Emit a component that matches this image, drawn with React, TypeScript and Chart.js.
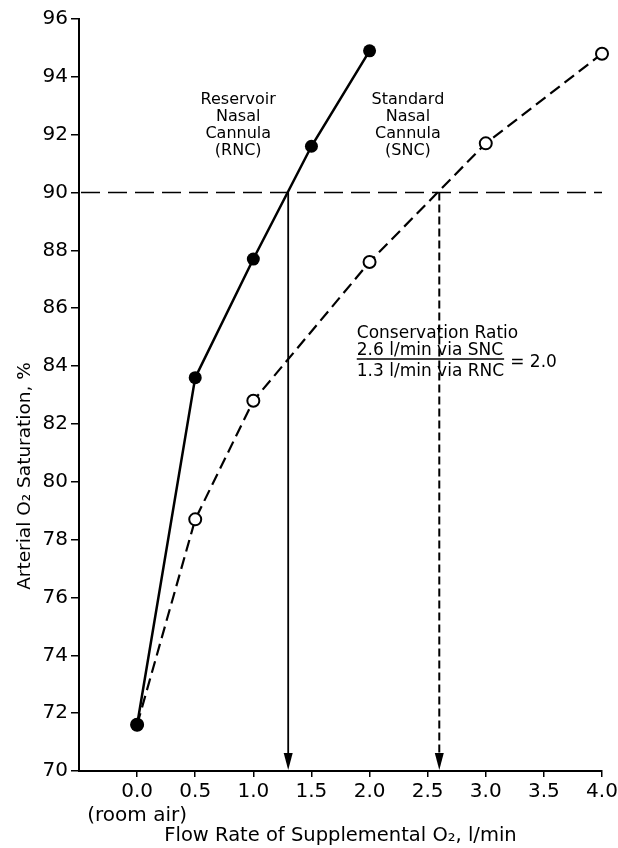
import React, { useEffect, useRef } from 'react';
import { Chart, registerables } from 'chart.js';

Chart.register(...registerables);

// ---- data ----
const flowRNC = [0, 0.5, 1.0, 1.5, 2.0];
const satRNC = [71.6, 83.6, 87.7, 91.6, 94.9];
const flowSNC = [0, 0.5, 1.0, 2.0, 3.0, 4.0];
const satSNC = [71.6, 78.7, 82.8, 87.6, 91.7, 94.8];

const TARGET_SAT = 90;
const RNC_FLOW_AT_TARGET = 1.3;
const SNC_FLOW_AT_TARGET = 2.6;

const X_MIN = -0.5;
const X_MAX = 4.0;
const X_STEP = 0.5;
const Y_MIN = 70;
const Y_MAX = 96;
const Y_STEP = 2;

const rncLabel = ['Reservoir', 'Nasal', 'Cannula', '(RNC)'];
const sncLabel = ['Standard', 'Nasal', 'Cannula', '(SNC)'];
const ratioTitle = 'Conservation Ratio';
const ratioNumerator = `${SNC_FLOW_AT_TARGET.toFixed(1)} l/min via SNC`;
const ratioDenominator = `${RNC_FLOW_AT_TARGET.toFixed(1)} l/min via RNC`;
const ratioResult = `= ${(SNC_FLOW_AT_TARGET / RNC_FLOW_AT_TARGET).toFixed(1)}`;
const xTitle = 'Flow Rate of Supplemental O\u2082, l/min';
const yTitle = 'Arterial O\u2082 Saturation, %';
const roomAirLabel = '(room air)';

const FONT = '"DejaVu Sans", "Noto Sans", sans-serif';

const annotationPlugin = {
  id: 'o2annotations',
  beforeDatasetsDraw(chart: any) {
    const { ctx, scales } = chart;
    const x = scales.x;
    const y = scales.y;
    const y90 = y.getPixelForValue(TARGET_SAT);
    const y70 = y.getPixelForValue(Y_MIN);
    ctx.save();
    ctx.strokeStyle = '#000';
    ctx.fillStyle = '#000';
    // horizontal dashed threshold line
    ctx.lineWidth = 1.6;
    ctx.setLineDash([19, 8]);
    ctx.beginPath();
    ctx.moveTo(x.getPixelForValue(X_MIN) + 2, y90);
    ctx.lineTo(x.getPixelForValue(X_MAX), y90);
    ctx.stroke();

    const headH = 18;
    const headW = 4.5;
    const arrow = (flow: number, dash: number[], lw: number) => {
      const px = x.getPixelForValue(flow);
      ctx.lineWidth = lw;
      ctx.setLineDash(dash);
      ctx.beginPath();
      ctx.moveTo(px, y90);
      ctx.lineTo(px, y70 - headH + 2);
      ctx.stroke();
      ctx.setLineDash([]);
      ctx.beginPath();
      ctx.moveTo(px - headW, y70 - headH);
      ctx.lineTo(px + headW, y70 - headH);
      ctx.lineTo(px, y70 - 1);
      ctx.closePath();
      ctx.fill();
    };
    arrow(RNC_FLOW_AT_TARGET, [], 1.8);
    arrow(SNC_FLOW_AT_TARGET, [8, 4], 2);
    ctx.restore();
  },
  afterDraw(chart: any) {
    const { ctx, scales } = chart;
    const x = scales.x;
    const y = scales.y;
    ctx.save();
    ctx.fillStyle = '#000';
    ctx.strokeStyle = '#000';
    ctx.textBaseline = 'middle';

    // series labels
    ctx.font = `16px ${FONT}`;
    ctx.textAlign = 'center';
    const lineGap = 17;
    const labelTop = y.getPixelForValue(93.2);
    rncLabel.forEach((t, i) => ctx.fillText(t, x.getPixelForValue(0.87), labelTop + i * lineGap));
    sncLabel.forEach((t, i) => ctx.fillText(t, x.getPixelForValue(2.33), labelTop + i * lineGap));

    // conservation ratio
    const rx = x.getPixelForValue(1.89);
    const ry = y.getPixelForValue(85.14);
    ctx.font = `17px ${FONT}`;
    ctx.textAlign = 'left';
    ctx.fillText(ratioTitle, rx, ry);
    ctx.fillText(ratioNumerator, rx, ry + 17);
    ctx.fillText(ratioDenominator, rx, ry + 38.5);
    const numW = ctx.measureText(ratioNumerator).width;
    ctx.lineWidth = 1.5;
    ctx.beginPath();
    ctx.moveTo(rx, ry + 26);
    ctx.lineTo(rx + Math.max(numW, ctx.measureText(ratioDenominator).width), ry + 26);
    ctx.stroke();
    ctx.fillText(ratioResult, x.getPixelForValue(3.21), ry + 29);

    // y axis title
    ctx.font = `18.5px ${FONT}`;
    ctx.textAlign = 'center';
    ctx.translate(25, y.getPixelForValue(80.2));
    ctx.rotate(-Math.PI / 2);
    ctx.fillText(yTitle, 0, 0);
    ctx.restore();
  },
};

export default function App() {
  const canvasRef = useRef<HTMLCanvasElement | null>(null);

  useEffect(() => {
    if (!canvasRef.current) return;
    Chart.defaults.font.family = FONT;
    Chart.defaults.color = '#000';
    const chart = new Chart(canvasRef.current, {
      type: 'line',
      data: {
        datasets: [
          {
            label: 'Reservoir Nasal Cannula (RNC)',
            data: flowRNC.map((f, i) => ({ x: f, y: satRNC[i] })),
            borderColor: '#000',
            borderWidth: 2.5,
            pointRadius: 6.5,
            pointBorderWidth: 0,
            pointBackgroundColor: '#000',
            pointBorderColor: '#000',
            tension: 0,
            clip: false as any,
          },
          {
            label: 'Standard Nasal Cannula (SNC)',
            data: flowSNC.map((f, i) => ({ x: f, y: satSNC[i] })),
            borderColor: '#000',
            borderWidth: 2.2,
            borderDash: [12, 6],
            pointRadius: 6,
            pointBorderWidth: 2,
            pointBackgroundColor: '#fff',
            pointBorderColor: '#000',
            tension: 0,
            clip: false as any,
          },
        ],
      },
      options: {
        responsive: false,
        animation: false,
        layout: { padding: { top: 19, right: 16, left: 0, bottom: 0 } },
        plugins: {
          legend: { display: false },
          tooltip: { enabled: false },
        },
        scales: {
          x: {
            type: 'linear',
            min: X_MIN,
            max: X_MAX,
            grid: {
              drawOnChartArea: false,
              drawTicks: true,
              tickLength: 6,
              lineWidth: 1.5,
              color: (c: any) => (c.tick && c.tick.value === X_MIN ? 'rgba(0,0,0,0)' : '#000'),
            },
            border: { display: true, color: '#000', width: 2 },
            ticks: {
              stepSize: X_STEP,
              autoSkip: false,
              maxRotation: 0,
              padding: 3,
              font: { size: 20 },
              color: '#000',
              callback: (v: any) => {
                const n = Number(v);
                if (Math.abs(n - X_MIN) < 1e-9) return '';
                if (Math.abs(n) < 1e-9) return ['0.0', roomAirLabel];
                return n.toFixed(1);
              },
            },
            title: {
              display: true,
              text: xTitle,
              font: { size: 19.5 },
              color: '#000',
              padding: { top: 0, bottom: 0 },
            },
            afterFit: (s: any) => {
              s.height = 77;
              s.paddingRight = 0;
              s.paddingLeft = 0;
            },
          },
          y: {
            type: 'linear',
            min: Y_MIN,
            max: Y_MAX,
            grid: {
              drawOnChartArea: false,
              drawTicks: true,
              tickLength: 8,
              lineWidth: 1.5,
              color: '#000',
            },
            border: { display: true, color: '#000', width: 2 },
            ticks: {
              stepSize: Y_STEP,
              padding: 3,
              font: { size: 20 },
              color: '#000',
            },
            afterFit: (s: any) => {
              s.width = 79;
            },
          },
        },
      },
      plugins: [annotationPlugin],
    });
    return () => chart.destroy();
  }, []);

  return (
    <div style={{ position: 'absolute', left: 0, top: 0, width: 618, height: 848, background: '#fff' }}>
      <canvas ref={canvasRef} width={618} height={848} style={{ width: 618, height: 848 }} />
    </div>
  );
}
